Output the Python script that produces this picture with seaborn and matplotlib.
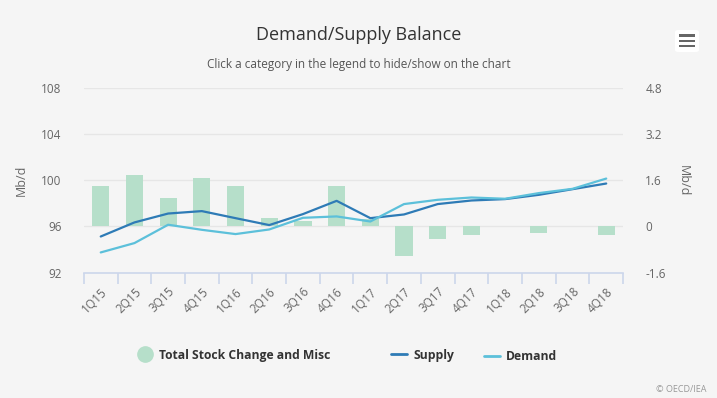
import matplotlib
matplotlib.use("Agg")
import matplotlib.pyplot as plt
import seaborn as sns
import pandas as pd
from matplotlib.lines import Line2D
from matplotlib.patches import Rectangle, FancyBboxPatch

categories = ["1Q15", "2Q15", "3Q15", "4Q15", "1Q16", "2Q16", "3Q16", "4Q16",
              "1Q17", "2Q17", "3Q17", "4Q17", "1Q18", "2Q18", "3Q18", "4Q18"]
stock_change = [1.39, 1.80, 1.00, 1.69, 1.39, 0.31, 0.20, 1.39,
                0.25, -1.01, -0.42, -0.31, 0.0, -0.21, 0.0, -0.31]
supply = [95.13, 96.35, 97.12, 97.33, 96.72, 96.12, 97.07, 98.22,
          96.72, 97.04, 97.94, 98.25, 98.37, 98.74, 99.23, 99.72]
demand = [93.75, 94.56, 96.15, 95.71, 95.34, 95.74, 96.75, 96.87,
          96.43, 97.94, 98.31, 98.51, 98.40, 98.89, 99.26, 100.15]
left_ticks = [92, 96, 100, 104, 108]
right_ticks = [-1.6, 0, 1.6, 3.2, 4.8]
right_tick_labels = ["-1.6", "0", "1.6", "3.2", "4.8"]

df = pd.DataFrame({"cat": categories, "stock": stock_change,
                   "supply": supply, "demand": demand})

sns.set_theme(style="white")
plt.rcParams["font.family"] = ["Open Sans", "DejaVu Sans"]

BG = "#f5f5f5"
BAR = "#b6dfca"
SUP = "#2e7bb6"
DEM = "#5cc0da"
TXT = "#666666"
W, H = 717, 398

fig = plt.figure(figsize=(7.17, 3.98), dpi=100, facecolor=BG)
ax1 = fig.add_axes([0.117, 0.315, 0.752, 0.464])
ax1.set_facecolor(BG)
ax2 = ax1.twinx()

# bars on right axis
sns.barplot(data=df, x="cat", y="stock", ax=ax2, color=BAR, width=0.51,
            saturation=1, errorbar=None, linewidth=0, edgecolor=BAR, zorder=2)
# lines on left axis
xs = list(range(len(categories)))
sns.lineplot(x=xs, y=df["supply"], ax=ax1, color=SUP,
             linewidth=1.6, sort=False, zorder=4)
sns.lineplot(x=xs, y=df["demand"], ax=ax1, color=DEM,
             linewidth=1.6, sort=False, zorder=4)

ax1.set_zorder(ax2.get_zorder() + 1)
ax1.patch.set_visible(False)
ax2.set_facecolor(BG)

ax1.set_xlim(-0.5, len(categories) - 0.5)
ax2.set_xlim(-0.5, len(categories) - 0.5)
ax1.set_ylim(92, 108)
ax2.set_ylim(-1.6, 4.8)
ax1.set_yticks(left_ticks)
ax1.set_yticklabels([str(t) for t in left_ticks])
ax2.set_yticks(right_ticks)
ax2.set_yticklabels(right_tick_labels)

for a in (ax1, ax2):
    for s in a.spines.values():
        s.set_visible(False)
ax2.grid(False)
ax1.grid(False)
for t in right_ticks[1:]:
    ax2.axhline(t, color="#e6e6e6", linewidth=1, zorder=0)
ax1.spines["bottom"].set_visible(True)
ax1.spines["bottom"].set_color("#ccd6eb")
ax1.spines["bottom"].set_linewidth(1.2)

ax1.tick_params(axis="y", length=0, pad=16, labelsize=8.5, labelcolor=TXT)
ax2.tick_params(axis="y", length=0, pad=16, labelsize=8.5, labelcolor=TXT)

# x ticks at category boundaries, labels at centers
ax1.set_xticks([i - 0.5 for i in range(len(categories) + 1)])
ax1.set_xticklabels([])
ax1.set_xticks(xs, minor=True)
ax1.set_xticklabels(categories, minor=True, rotation=45, ha="right",
                    rotation_mode="anchor")
ax1.tick_params(axis="x", which="major", length=8, width=1.2, color="#ccd6eb",
                direction="out", bottom=True)
ax1.tick_params(axis="x", which="minor", length=0, pad=9, labelsize=8.5,
                labelcolor=TXT, bottom=True)
ax2.tick_params(axis="x", length=0)
ax2.set_xlabel("")
ax2.set_xticklabels([])

ax1.set_xlabel("")
ax1.set_ylabel("Mb/d", color=TXT, fontsize=9)
ax1.yaxis.set_label_coords(-0.104, 0.5)
ax2.set_ylabel("Mb/d", color=TXT, fontsize=9, rotation=270, va="center")
ax2.yaxis.set_label_coords(1.111, 0.5)

fig.text(0.5, 0.912, "Demand/Supply Balance", ha="center", va="center",
         fontsize=13, color="#333333")
fig.text(0.5, 0.838, "Click a category in the legend to hide/show on the chart",
         ha="center", va="center", fontsize=8.5, color="#555555")
fig.text(0.985, 0.022, "© OECD/IEA", ha="right", va="center", fontsize=6.5,
         color="#999999")

# hamburger menu icon
fig.add_artist(FancyBboxPatch((675 / W, 1 - 52 / H), 24 / W, 22 / H,
                              boxstyle="round,pad=0,rounding_size=0.005",
                              transform=fig.transFigure, facecolor="white",
                              edgecolor="none"))
for yy in (35.5, 40.7, 45.8):
    fig.add_artist(Rectangle((679 / W, 1 - (yy + 1.2) / H), 16 / W, 2.4 / H,
                             transform=fig.transFigure, color="#666666", lw=0))

leg_items = [
    (Line2D([], [], marker="o", linestyle="None", markersize=11,
            markerfacecolor=BAR, markeredgecolor=BAR),
     "Total Stock Change and Misc", 137.5, 355),
    (Line2D([], [], color=SUP, linewidth=2), "Supply", 391.5, 355),
    (Line2D([], [], color=DEM, linewidth=2), "Demand", 484, 357),
]
for h, lab, xpx, ypx in leg_items:
    lg = fig.legend([h], [lab], loc="center left",
                    bbox_to_anchor=(xpx / W, 1 - ypx / H), frameon=False,
                    fontsize=8.7, handlelength=1.3, handletextpad=0.5,
                    borderpad=0, borderaxespad=0)
    for t in lg.get_texts():
        t.set_fontweight("bold")
        t.set_color("#333333")

fig.savefig("out.png", dpi=100, facecolor=BG)
